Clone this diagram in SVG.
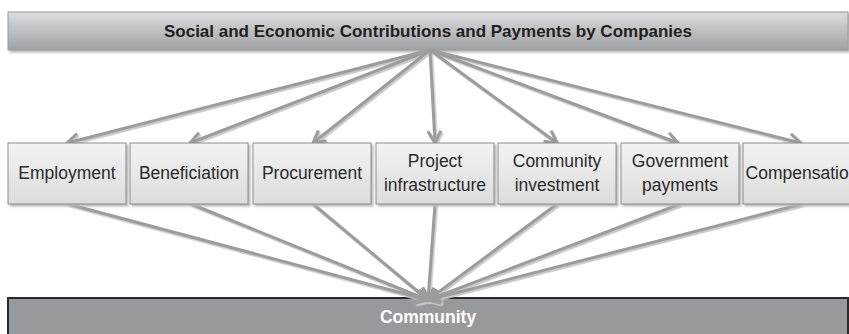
<svg xmlns="http://www.w3.org/2000/svg" width="849" height="334" viewBox="0 0 849 334">
<style>
.box{fill:url(#boxg);stroke:#8c8c8c;stroke-width:1}
.lbl{font-family:"Liberation Sans",Arial,sans-serif;font-size:17.5px;fill:#2a2a2a;text-anchor:middle}
.con{stroke:#9c9c9e;stroke-width:3;fill:none;marker-end:url(#ah)}
</style>
<defs>
<linearGradient id="topg" x1="0" y1="0" x2="0" y2="1">
<stop offset="0" stop-color="#dcdddf"/>
<stop offset="1" stop-color="#a0a1a4"/>
</linearGradient>
<linearGradient id="boxg" x1="0" y1="0" x2="0" y2="1">
<stop offset="0" stop-color="#f3f3f4"/>
<stop offset="1" stop-color="#dcdcdd"/>
</linearGradient>
<filter id="sh" x="-10%" y="-10%" width="120%" height="130%">
<feDropShadow dx="2" dy="2" stdDeviation="1" flood-color="#b8b8b8"/>
</filter>
<filter id="lsh" x="-10%" y="-10%" width="120%" height="120%">
<feDropShadow dx="1.5" dy="1.8" stdDeviation="0.6" flood-color="#c8c8c8"/>
</filter>
<marker id="ah" markerUnits="userSpaceOnUse" viewBox="-16 -10 18 20" markerWidth="18" markerHeight="20" refX="0" refY="0" orient="auto" overflow="visible">
<path d="M-12,-6.5 L0,0 L-12,6.5" fill="none" stroke="#9c9c9e" stroke-width="3" stroke-linejoin="miter"/>
</marker>
</defs>
<rect width="849" height="334" fill="#ffffff"/>
<g id="source">
<rect x="8" y="12" width="840" height="38" fill="url(#topg)" stroke="#9a9a9a" stroke-width="1" filter="url(#sh)"/>
<text x="428" y="36.5" font-family="Liberation Sans,Arial,sans-serif" font-weight="bold" font-size="17" fill="#231f20" text-anchor="middle">Social and Economic Contributions and Payments by Companies</text>
</g>
<g id="community">
<rect x="8" y="298" width="840" height="50" fill="#98999c" stroke="#2a2a2a" stroke-width="2"/>
<text x="428" y="323" font-family="Liberation Sans,Arial,sans-serif" font-weight="bold" font-size="17.5" fill="#ffffff" text-anchor="middle">Community</text>
</g>
<g id="connectors" filter="url(#lsh)">
<line class="con" x1="430" y1="50" x2="67" y2="143"/>
<line class="con" x1="430" y1="50" x2="190" y2="143"/>
<line class="con" x1="430" y1="50" x2="313" y2="143"/>
<line class="con" x1="430" y1="50" x2="435" y2="143"/>
<line class="con" x1="430" y1="50" x2="557" y2="143"/>
<line class="con" x1="430" y1="50" x2="678" y2="143"/>
<line class="con" x1="430" y1="50" x2="801" y2="143"/>
<line class="con" x1="68" y1="204" x2="428" y2="300"/>
<line class="con" x1="191" y1="204" x2="428" y2="300"/>
<line class="con" x1="313" y1="204" x2="428" y2="300"/>
<line class="con" x1="435" y1="204" x2="428" y2="300"/>
<line class="con" x1="557" y1="204" x2="428" y2="300"/>
<line class="con" x1="680" y1="204" x2="428" y2="300"/>
<line class="con" x1="802" y1="204" x2="428" y2="300"/>
</g>
<g id="employment"><rect class="box" x="8" y="143" width="118" height="61" filter="url(#sh)"/><text class="lbl" x="67" y="179">Employment</text></g>
<g id="beneficiation"><rect class="box" x="130" y="143" width="118" height="61" filter="url(#sh)"/><text class="lbl" x="189" y="179">Beneficiation</text></g>
<g id="procurement"><rect class="box" x="253" y="143" width="118" height="61" filter="url(#sh)"/><text class="lbl" x="312" y="179">Procurement</text></g>
<g id="project-infrastructure"><rect class="box" x="376" y="143" width="118" height="61" filter="url(#sh)"/><text class="lbl" x="435" y="167">Project</text><text class="lbl" x="435" y="191">infrastructure</text></g>
<g id="community-investment"><rect class="box" x="498" y="143" width="118" height="61" filter="url(#sh)"/><text class="lbl" x="557" y="167">Community</text><text class="lbl" x="557" y="191">investment</text></g>
<g id="government-payments"><rect class="box" x="621" y="143" width="118" height="61" filter="url(#sh)"/><text class="lbl" x="680" y="167">Government</text><text class="lbl" x="680" y="191">payments</text></g>
<g id="compensation"><rect class="box" x="743" y="143" width="118" height="61" filter="url(#sh)"/><text class="lbl" x="802" y="179">Compensation</text></g>
</svg>
